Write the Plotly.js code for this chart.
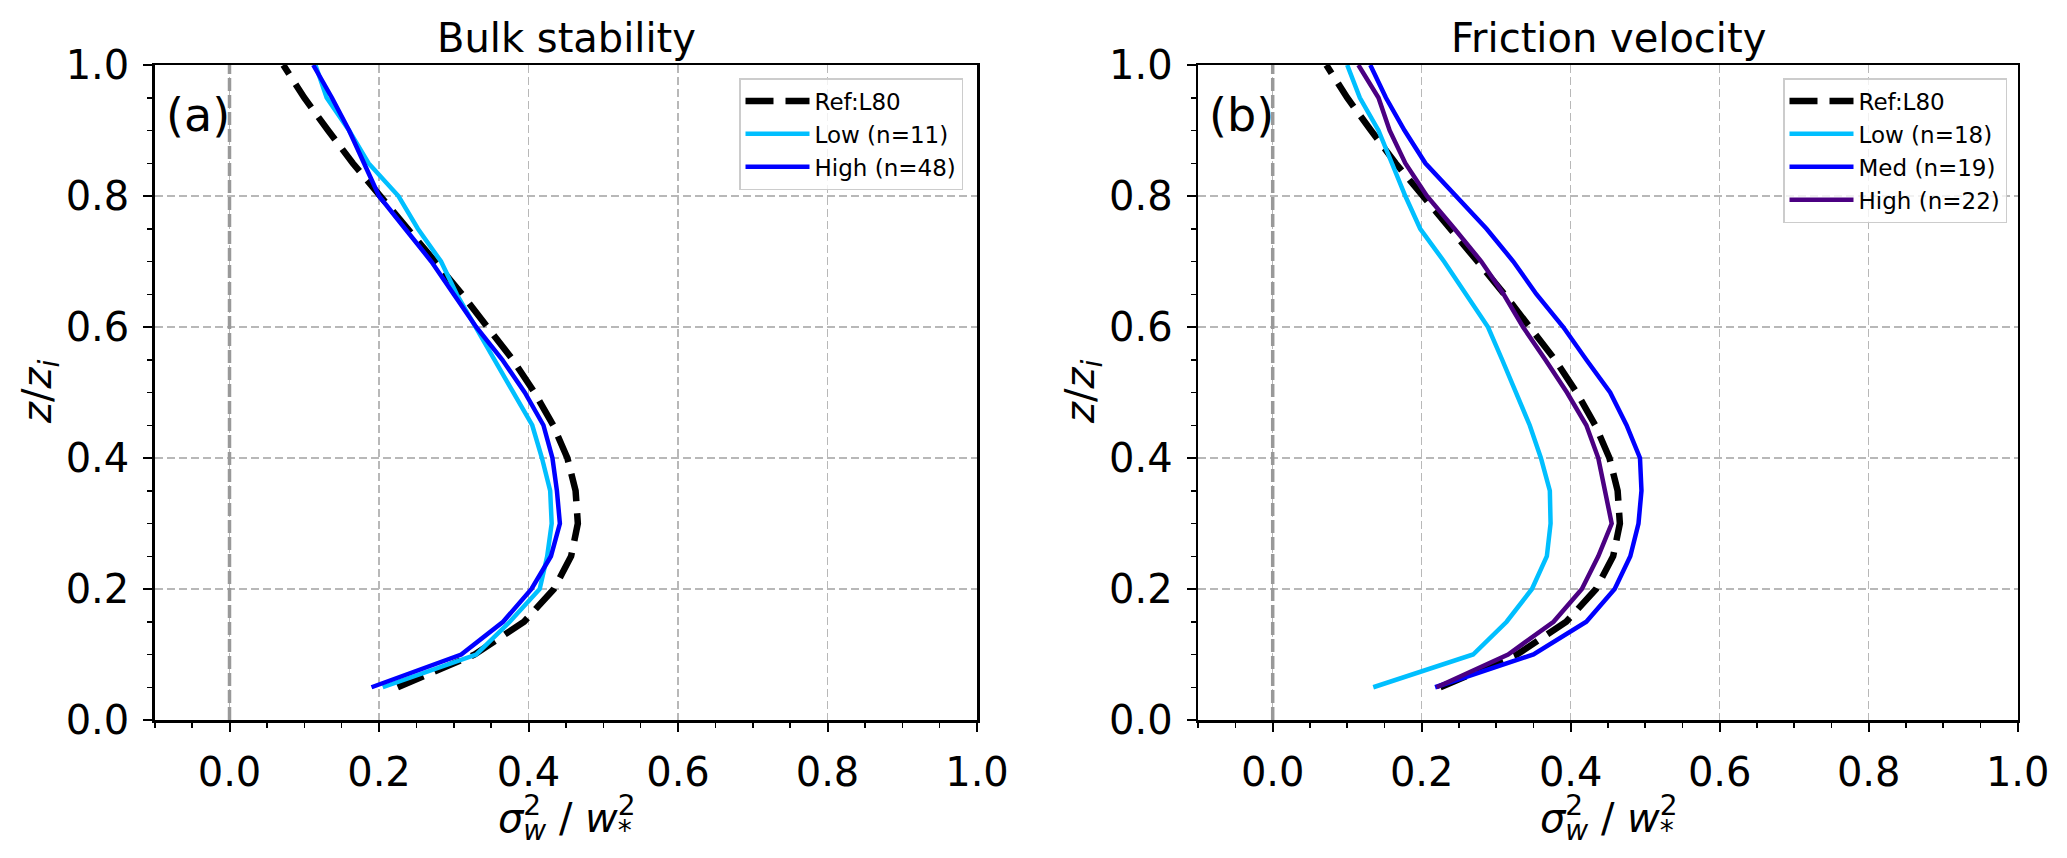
<!DOCTYPE html>
<html>
<head>
<meta charset="utf-8">
<script src="https://cdn.plot.ly/plotly-3.0.1.min.js"></script>
<style>
  html, body { margin: 0; padding: 0; background: #fff; }
  #chart { width: 2067px; height: 858px; }
</style>
</head>
<body>
<div id="chart"></div>
<script>
//heights z/zi, shared by every profile
var zLevels = [0.05, 0.10, 0.15, 0.20, 0.25, 0.30, 0.35, 0.40, 0.45, 0.50,
               0.55, 0.60, 0.65, 0.70, 0.75, 0.80, 0.85, 0.90, 0.95, 1.00];

//reference profile L80 (same in both panels)
var refL80 = [0.225, 0.328, 0.394, 0.434, 0.457, 0.466, 0.463, 0.452, 0.433, 0.408,
              0.379, 0.346, 0.311, 0.275, 0.238, 0.201, 0.165, 0.132, 0.100, 0.072];

//panel (a) bulk stability
var stabLow  = [0.205, 0.330, 0.375, 0.415, 0.425, 0.431, 0.429, 0.418, 0.405, 0.380,
                0.355, 0.330, 0.304, 0.283, 0.252, 0.226, 0.186, 0.160, 0.130, 0.115];
var stabHigh = [0.190, 0.310, 0.366, 0.404, 0.430, 0.442, 0.438, 0.432, 0.420, 0.395,
                0.365, 0.330, 0.300, 0.270, 0.235, 0.200, 0.180, 0.160, 0.137, 0.112];

//panel (b) friction velocity
var ustarLow  = [0.135, 0.269, 0.314, 0.348, 0.368, 0.373, 0.372, 0.360, 0.345, 0.327,
                 0.308, 0.289, 0.260, 0.230, 0.198, 0.178, 0.160, 0.142, 0.117, 0.100];
var ustarMed  = [0.218, 0.350, 0.421, 0.459, 0.480, 0.491, 0.495, 0.493, 0.475, 0.453,
                 0.421, 0.390, 0.354, 0.323, 0.287, 0.247, 0.205, 0.177, 0.152, 0.131];
var ustarHigh = [0.220, 0.316, 0.377, 0.415, 0.437, 0.455, 0.446, 0.437, 0.421, 0.395,
                 0.366, 0.336, 0.310, 0.280, 0.244, 0.207, 0.178, 0.157, 0.142, 0.115];

var legendA = ["Ref:L80", "Low (n=11)", "High (n=48)"];
var legendB = ["Ref:L80", "Low (n=18)", "Med (n=19)", "High (n=22)"];
var xTicks = [0.0, 0.2, 0.4, 0.6, 0.8, 1.0];
var yTicks = [0.0, 0.2, 0.4, 0.6, 0.8, 1.0];

var W = 2067, H = 858;
var font = "DejaVu Sans, Liberation Sans, sans-serif";

function line(x, name, color, xa, ya, leg, dash, width) {
  return {
    x: x, y: zLevels, name: name, mode: "lines", type: "scatter",
    xaxis: xa, yaxis: ya, legend: leg,
    line: { color: color, width: width || 4.5, dash: dash || "solid" }
  };
}

var refDash = "28px,12px";
var data = [
  line(refL80, legendA[0], "#000000", "x", "y", "legend", refDash, 6.5),
  line(stabLow, legendA[1], "#00bfff", "x", "y", "legend"),
  line(stabHigh, legendA[2], "#0000ff", "x", "y", "legend"),
  line(refL80, legendB[0], "#000000", "x2", "y2", "legend2", refDash, 6.5),
  line(ustarLow, legendB[1], "#00bfff", "x2", "y2", "legend2"),
  line(ustarMed, legendB[2], "#0000ff", "x2", "y2", "legend2"),
  line(ustarHigh, legendB[3], "#4b0082", "x2", "y2", "legend2")
];

//common axis style
function axis(domain, ticks, anchor) {
  return {
    domain: domain, anchor: anchor, range: [0, 1],
    tickvals: ticks, ticktext: ticks.map(function (v) { return v.toFixed(1); }),
    ticks: "outside", ticklen: 9, tickwidth: 2, tickcolor: "#000",
    ticklabelstandoff: 6,
    minor: { dtick: 0.05, tick0: 0, ticks: "outside", ticklen: 5, tickwidth: 1.5, tickcolor: "#000", showgrid: false },
    showline: true, linecolor: "#000", linewidth: 2.5, mirror: true,
    showgrid: true, gridcolor: "#b8b8b8", gridwidth: 1.6, griddash: "8px,4px",
    zeroline: false,
    tickfont: { family: font, size: 40, color: "#000" },
    fixedrange: true
  };
}

//plot area in pixels -> paper fractions
var xa = axis([154.75 / W, 977 / W], xTicks, "y");
xa.range = [-0.1, 1.0];
var xb = axis([1198.2 / W, 2017.7 / W], xTicks, "y2");
xb.range = [-0.1, 1.0];
var yDom = [(H - 720) / H, (H - 65) / H];
var ya = axis(yDom, yTicks, "x");
var yb = axis(yDom, yTicks, "x2");

function note(text, x, y, size, extra) {
  var a = {
    text: text, x: x, y: y, xref: "paper", yref: "paper",
    showarrow: false, font: { family: font, size: size, color: "#000" },
    xanchor: "center", yanchor: "middle"
  };
  for (var k in extra) a[k] = extra[k];
  return a;
}

//superscript pulled back so the subscript sits under it
var back = "<span style='letter-spacing:-0.64em'>2</span>";
var xTitle = "<i>σ</i><sup>" + back + "</sup><sub><i>w</i></sub> / <i>w</i><sup>" + back + "</sup><sub>*</sub>";
var yTitle = "<i>z</i>/<i>z</i><sub><i>i</i></sub>";

var legendStyle = function (right) {
  return {
    x: right / W, y: (H - 78) / H, xanchor: "right", yanchor: "top",
    bgcolor: "rgba(255,255,255,0.8)", bordercolor: "#cccccc", borderwidth: 1.5,
    font: { family: font, size: 23, color: "#000" },
    itemwidth: 64, tracegroupgap: 0
  };
};

var layout = {
  width: W, height: H,
  margin: { l: 0, r: 0, t: 0, b: 0 },
  paper_bgcolor: "#fff", plot_bgcolor: "#fff",
  showlegend: true,
  xaxis: xa, yaxis: ya, xaxis2: xb, yaxis2: yb,
  legend: legendStyle(963),
  legend2: legendStyle(2007),
  shapes: [
    { type: "line", xref: "x", yref: "y", x0: 0, x1: 0, y0: 0, y1: 1, layer: "between",
      line: { color: "#999999", width: 3.5, dash: "13px,4px" } },
    { type: "line", xref: "x2", yref: "y2", x0: 0, x1: 0, y0: 0, y1: 1, layer: "between",
      line: { color: "#999999", width: 3.5, dash: "13px,4px" } }
  ],
  annotations: [
    note("Bulk stability", 566 / W, (H - 38) / H, 40),
    note("Friction velocity", 1608 / W, (H - 38) / H, 40),
    note(xTitle, 566 / W, (H - 820) / H, 40),
    note(xTitle, 1608 / W, (H - 820) / H, 40),
    note(yTitle, 40 / W, (H - 392) / H, 40, { textangle: -90 }),
    note(yTitle, 1083 / W, (H - 392) / H, 40, { textangle: -90 }),
    note("(a)", -0.088, 0.924, 46, { xref: "x", yref: "y", xanchor: "left" }),
    note("(b)", -0.088, 0.924, 46, { xref: "x2", yref: "y2", xanchor: "left" })
  ]
};

Plotly.newPlot("chart", data, layout, { staticPlot: true, displayModeBar: false });
</script>
</body>
</html>
